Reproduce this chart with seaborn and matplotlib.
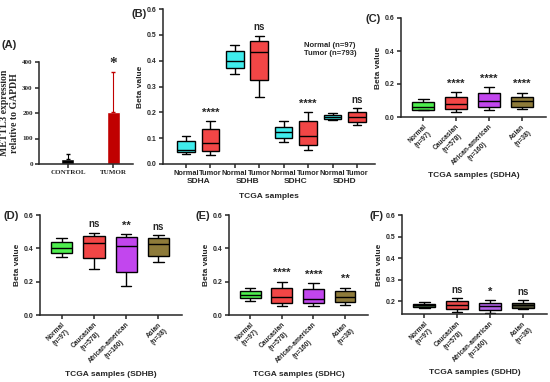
import numpy as np
import pandas as pd
import seaborn as sns
import matplotlib.pyplot as plt
from matplotlib import transforms

sns.set_style("ticks")
plt.rcParams['font.family'] = ['Liberation Sans', 'DejaVu Sans']
plt.rcParams['font.weight'] = 'bold'
plt.rcParams['axes.labelweight'] = 'bold'

# ---- data ----
# (A) qPCR
a_groups = ['CONTROL', 'TUMOR']
a_means = [20, 205]
a_err = [20, 155]
a_colors = ['#000000', '#C00000']

# box stats: [min, q1, median, q3, max]
# (B) Normal vs Tumor per gene
b_genes = ['SDHA', 'SDHB', 'SDHC', 'SDHD']
b_normal = [[0.040, 0.045, 0.055, 0.090, 0.110],
            [0.350, 0.370, 0.400, 0.437, 0.460],
            [0.087, 0.100, 0.122, 0.145, 0.165],
            [0.170, 0.173, 0.183, 0.190, 0.197]]
b_tumor = [[0.033, 0.050, 0.083, 0.135, 0.165],
           [0.260, 0.325, 0.432, 0.477, 0.497],
           [0.055, 0.075, 0.108, 0.165, 0.200],
           [0.152, 0.163, 0.183, 0.200, 0.215]]
b_sig = ['****', 'ns', '****', 'ns']

# (C)-(F) by race
races = ['Normal\n(n=97)', 'Caucasian\n(n=578)', 'African-american\n(n=160)', 'Asian\n(n=38)']
c_stats = [[0.040, 0.045, 0.060, 0.088, 0.110],
           [0.033, 0.050, 0.080, 0.122, 0.152],
           [0.040, 0.060, 0.098, 0.148, 0.180],
           [0.048, 0.062, 0.095, 0.122, 0.148]]
c_sig = ['', '****', '****', '****']
d_stats = [[0.350, 0.370, 0.400, 0.437, 0.460],
           [0.275, 0.340, 0.435, 0.477, 0.495],
           [0.172, 0.260, 0.413, 0.467, 0.485],
           [0.318, 0.357, 0.425, 0.462, 0.478]]
d_sig = ['', 'ns', '**', 'ns']
e_stats = [[0.087, 0.100, 0.122, 0.145, 0.165],
           [0.055, 0.075, 0.108, 0.163, 0.200],
           [0.055, 0.072, 0.095, 0.158, 0.190],
           [0.058, 0.077, 0.110, 0.142, 0.165]]
e_sig = ['', '****', '****', '**']
f_stats = [[0.168, 0.173, 0.183, 0.190, 0.198],
           [0.153, 0.165, 0.183, 0.200, 0.215],
           [0.148, 0.160, 0.178, 0.195, 0.205],
           [0.165, 0.170, 0.183, 0.195, 0.205]]
f_sig = ['', 'ns', '*', 'ns']

race_colors = ['#4EEE4E', '#F24646', '#C246EE', '#8E7B3A']
f_colors = ['#3D5F3D', '#E84848', '#B060E6', '#4B4B32']

W, H = 550, 382
fig = plt.figure(figsize=(5.5, 3.82), dpi=100)


def px_axes(x0, y0, x1, y1):
    return fig.add_axes([x0 / W, 1 - y1 / H, (x1 - x0) / W, (y1 - y0) / H])


def style(ax):
    sns.despine(ax=ax)
    for s in ['left', 'bottom']:
        ax.spines[s].set_linewidth(1.1)
    ax.tick_params(width=1.1, length=3, labelsize=5, pad=1.5)


def long_df(stats, labels):
    rows = []
    for lab, st in zip(labels, stats):
        for v in st:
            rows.append((lab, v))
    return pd.DataFrame(rows, columns=['group', 'beta'])


def sig_text(ax, x, y, s):
    # stars sit high in the glyph box, so they are drawn a bit larger and lower
    if s == 'ns':
        ax.text(x, y, s, ha='center', va='bottom', fontsize=7)
    else:
        ax.text(x, y, s, ha='center', va='bottom', fontsize=8)


# ---- (A) ----
axA = px_axes(39, 62, 133, 164)
serif = ['Liberation Serif', 'DejaVu Serif']
sns.barplot(x=a_groups, y=a_means, hue=a_groups, palette=a_colors, saturation=1,
            width=0.29, legend=False, ax=axA)
for i in range(2):
    axA.errorbar([i], [a_means[i]], yerr=[[0], [a_err[i]]], fmt='none', ecolor=a_colors[i],
                 elinewidth=0.8, capsize=1.5)
axA.text(1, a_means[1] + a_err[1] + 8, '*', ha='center', va='bottom', fontsize=11, family=serif)
axA.set_xlim(-0.64, 1.44)
axA.set_ylim(0, 400)
axA.set_yticks([0, 100, 200, 300, 400])
style(axA)
for t in axA.get_xticklabels() + axA.get_yticklabels():
    t.set_family(serif)
axA.set_ylabel('METTL3 expression\nrelative to GAPDH', family=serif, fontsize=7, labelpad=2)
fig.text(2 / W, 1 - 45 / H, '(A)', fontsize=8, va='center')

# ---- (B) ----
axB = px_axes(163, 9, 375, 164)
rows = []
for g, n, t in zip(b_genes, b_normal, b_tumor):
    for v in n:
        rows.append((g + ' Normal', 'Normal', v))
    for v in t:
        rows.append((g + ' Tumor', 'Tumor', v))
dfB = pd.DataFrame(rows, columns=['pos', 'kind', 'beta'])
sns.boxplot(data=dfB, x='pos', y='beta', hue='kind', palette={'Normal': '#3FECEC', 'Tumor': '#F24646'},
            whis=(0, 100), width=0.72, linewidth=1.0, linecolor='black', dodge=False,
            saturation=1, legend=False, ax=axB)
axB.set_xlim(-0.94, 7.74)
axB.set_ylim(0, 0.6)
axB.set_yticks(np.arange(0, 0.61, 0.1))
style(axB)
axB.set_xticks(range(8))
axB.set_xticklabels(['Normal', 'Tumor'] * 4, fontsize=5.3)
for i, (t, s) in enumerate(zip(b_tumor, b_sig)):
    sig_text(axB, 2 * i + 1, t[4] + 0.015, s)
trB = transforms.blended_transform_factory(axB.transData, axB.transAxes)
for i, g in enumerate(b_genes):
    axB.text(2 * i + 0.5, -0.115, g, transform=trB, ha='center', va='center', fontsize=6)
axB.text(5.9, 0.445, 'Normal (n=97)\nTumor (n=793)', ha='center', va='center', fontsize=5.5)
axB.set_xlabel('TCGA samples', fontsize=6)
axB.xaxis.set_label_coords(0.5, -0.185)
axB.set_ylabel('Beta value', fontsize=6, labelpad=2)
fig.text(132 / W, 1 - 14 / H, '(B)', fontsize=8, va='center')


# ---- (C)-(F) ----
def race_panel(box, stats, sig, colors, xlabel, ylim, yticks, tag, tagx):
    x0, y0, x1, y1 = box
    ax = px_axes(*box)
    df = long_df(stats, races)
    sns.boxplot(data=df, x='group', y='beta', hue='group', palette=colors,
                whis=(0, 100), width=0.66, linewidth=1.0, linecolor='black',
                saturation=1, legend=False, ax=ax)
    ax.set_xlim(-0.67, 3.73)
    ax.set_ylim(*ylim)
    ax.set_yticks(yticks)
    style(ax)
    ax.set_xticks(range(4))
    ax.set_xticklabels(races, rotation=45, ha='right', rotation_mode='anchor',
                       multialignment='center', fontsize=4.8)
    for i, (st, s) in enumerate(zip(stats, sig)):
        if s:
            sig_text(ax, i, st[4] + 0.02 * (ylim[1] - ylim[0]) / 0.6, s)
    ax.set_xlabel(xlabel, fontsize=6)
    ax.xaxis.set_label_coords(0.5, -0.555)
    ax.set_ylabel('Beta value', fontsize=6, labelpad=2)
    fig.text(tagx / W, 1 - (y0 + 1) / H, tag, fontsize=8, va='center')
    return ax


race_panel((401, 18, 546, 117), c_stats, c_sig, race_colors, 'TCGA samples (SDHA)',
           (0, 0.6), [0, 0.2, 0.4, 0.6], '(C)', 366)
race_panel((40, 215, 182, 315), d_stats, d_sig, race_colors, 'TCGA samples (SDHB)',
           (0, 0.6), [0, 0.2, 0.4, 0.6], '(D)', 3)
race_panel((229, 215, 368, 315), e_stats, e_sig, race_colors, 'TCGA samples (SDHC)',
           (0, 0.6), [0, 0.2, 0.4, 0.6], '(E)', 196)
race_panel((402, 215, 547, 314), f_stats, f_sig, f_colors, 'TCGA samples (SDHD)',
           (0.142, 0.6), [0.2, 0.3, 0.4, 0.5, 0.6], '(F)', 369)

fig.savefig('out.png', dpi=100)
